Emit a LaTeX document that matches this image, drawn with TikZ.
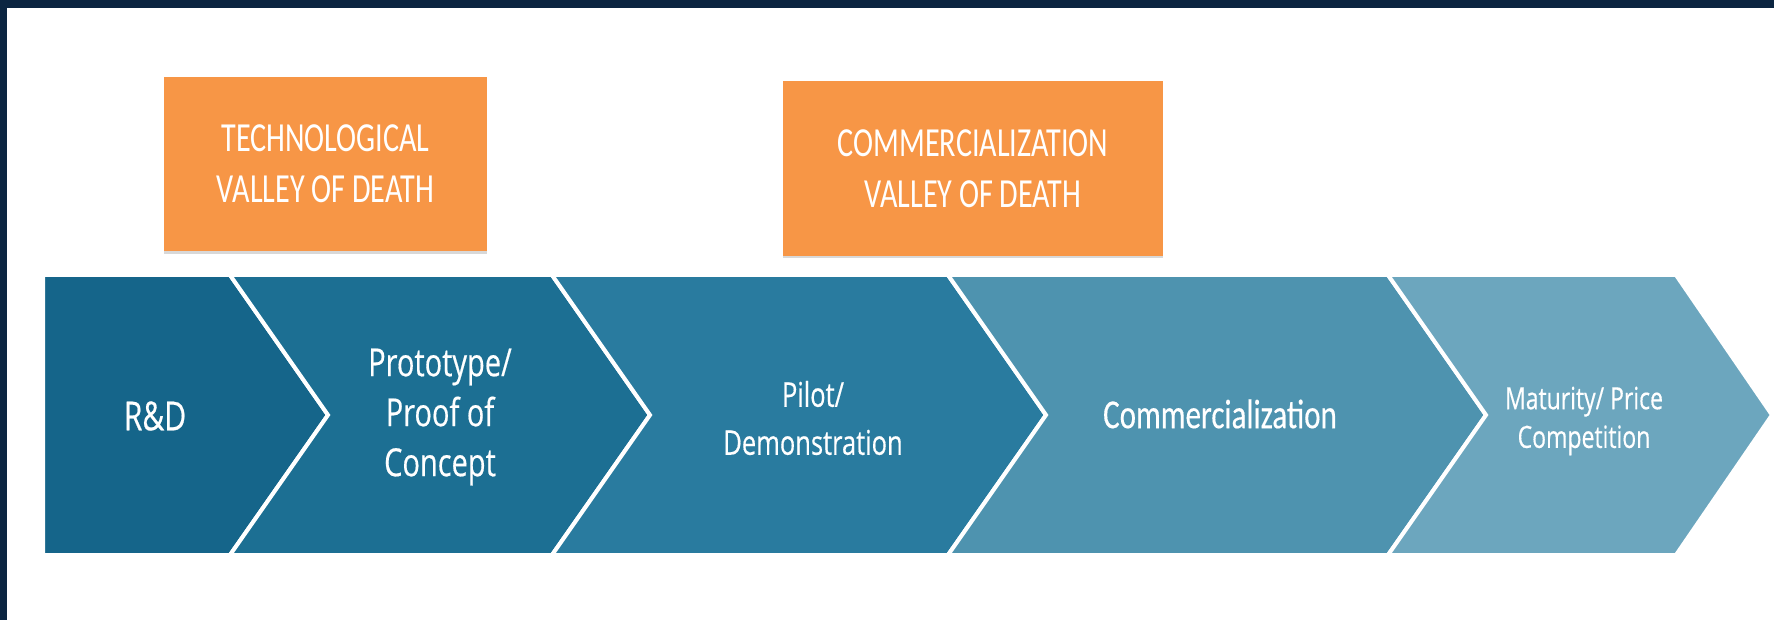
\documentclass[tikz,border=0pt]{standalone}
\usepackage{fontspec}
\setmainfont{Open Sans}
\newfontfamily\stagefont[FakeStretch=0.75,FakeBold=0.4]{Open Sans}
\newfontfamily\valleyfont[FakeStretch=0.73]{Carlito}
\newfontfamily\commfont[FakeStretch=0.75,FakeBold=0.3]{Carlito}
\usetikzlibrary{shadows}
\definecolor{frameblue}{HTML}{0B2541}
\definecolor{valleyorange}{HTML}{F79646}
\definecolor{stageA}{HTML}{15658A}
\definecolor{stageB}{HTML}{1C6F93}
\definecolor{stageC}{HTML}{297B9F}
\definecolor{stageD}{HTML}{4E93AF}
\definecolor{stageE}{HTML}{6CA6BE}
\begin{document}
\begin{tikzpicture}[x=0.75pt,y=0.75pt,yscale=-1,
  stage/.style={draw=white,line width=3pt,line join=miter},
  stagetext/.style={text=white,align=center,inner sep=0pt},
  valley/.style={fill=valleyorange,text=white,align=center,inner sep=0pt,
    font=\valleyfont\fontsize{31}{38}\selectfont,
    drop shadow={shadow xshift=0pt,shadow yshift=-2pt,opacity=0.3}}]
\useasboundingbox (0,0) rectangle (1774,620);

%Shape: Frame
\fill [frameblue] (0,0) rectangle (1774,620);
\fill [white] (7,8) rectangle (1774,620);

%Shape: Chevrons
\draw [stage,fill=stageA] (43,275) -- (230,275) -- (328,415) -- (230,555) -- (43,555) -- cycle ;
\draw [stage,fill=stageB] (230,275) -- (552,275) -- (650,415) -- (552,555) -- (230,555) -- (328,415) -- cycle ;
\draw [stage,fill=stageC] (552,275) -- (948,275) -- (1046,415) -- (948,555) -- (552,555) -- (650,415) -- cycle ;
\draw [stage,fill=stageD] (948,275) -- (1388,275) -- (1486,415) -- (1388,555) -- (948,555) -- (1046,415) -- cycle ;
\draw [stage,fill=stageE] (1388,275) -- (1676,275) -- (1772,415) -- (1676,555) -- (1388,555) -- (1486,415) -- cycle ;

%Shape: Valley boxes
\node [valley,minimum width=242pt,minimum height=131pt] (techvod) at (325.5,164) {TECHNOLOGICAL\\VALLEY OF DEATH};
\node [valley,minimum width=285pt,minimum height=131pt] (commvod) at (973,168.5) {COMMERCIALIZATION\\VALLEY OF DEATH};

% Text Node
\node [stagetext,font=\stagefont\fontsize{30}{36}\selectfont] (rd) at (155,416) {R\&D};
% Text Node
\node [stagetext,font=\stagefont\fontsize{29}{37.5}\selectfont] (proto) at (440,417) {Prototype/\\Proof of\\Concept};
% Text Node
\node [stagetext,font=\stagefont\fontsize{25.5}{36}\selectfont] (pilot) at (813,418) {Pilot/\\Demonstration};
% Text Node
\node [stagetext,font=\commfont\fontsize{31}{36}\selectfont] (comm) at (1220,414) {Commercialization};
% Text Node
\node [stagetext,font=\stagefont\fontsize{23}{29}\selectfont] (mature) at (1584,421) {Maturity/ Price\\Competition};

\end{tikzpicture}
\end{document}
